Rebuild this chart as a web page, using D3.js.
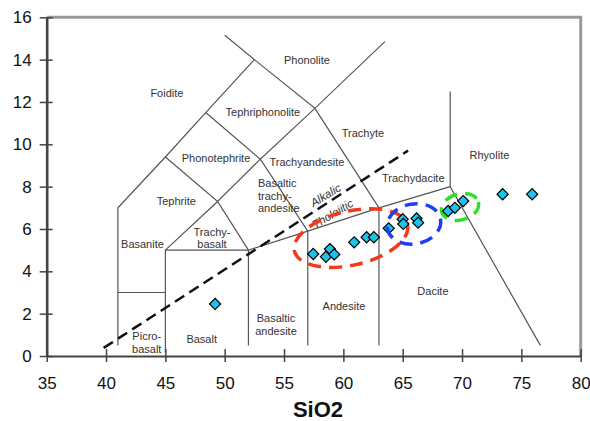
<!DOCTYPE html>
<html>
<head>
<meta charset="utf-8">
<script src="https://cdn.jsdelivr.net/npm/d3@7"></script>
<style>
  body { margin: 0; background: #fff; }
  text { font-family: "Liberation Sans", Arial, sans-serif; }
</style>
</head>
<body>
<script>
// axis ticks
const X_TICKS = [35, 40, 45, 50, 55, 60, 65, 70, 75, 80];
const Y_TICKS = [0, 2, 4, 6, 8, 10, 12, 14, 16];
const X_TITLE = 'SiO2';

// samples: SiO2 and total alkali
const SIO2 = [49.19, 57.46, 58.53, 58.87, 59.23, 60.91, 61.96, 62.57, 63.82,
  65.0, 65.05, 66.17, 66.3, 68.83, 69.4, 70.1, 73.42, 75.91];
const ALKALI = [2.46, 4.82, 4.69, 5.05, 4.80, 5.37, 5.61, 5.61, 6.03,
  6.46, 6.24, 6.50, 6.30, 6.85, 7.0, 7.32, 7.64, 7.64];

// TAS field boundaries, [SiO2, alkali] vertices
const FIELD_LINES = [
  [[41, 0.5], [41, 7], [45, 9.4], [48.4, 11.5], [52.5, 14], [50, 15.15]],
  [[52.5, 14], [57.6, 11.7], [63.5, 14.85]],
  [[41, 3], [45, 3]],
  [[45, 0.15], [45, 5], [52, 5]],
  [[45, 5], [49.4, 7.3], [52, 5]],
  [[52, 0.5], [52, 5], [57, 5.9], [63, 7], [69, 8]],
  [[57, 0.5], [57, 5.9]],
  [[63, 0.5], [63, 7]],
  [[69, 12.5], [69, 8], [76.6, 0.5]],
  [[45, 9.4], [49.4, 7.3], [53, 9.3], [57, 5.9]],
  [[48.4, 11.5], [53, 9.3], [57.6, 11.7]],
  [[57.6, 11.7], [63, 7]]
];

// alkalic / tholeiitic divide
const DIVIDE = [[39.8, 0.38], [65.45, 9.7]];

// field names
const FIELD_NAMES = [
  { lines: ['Foidite'], x: 45.13, y: 12.42 },
  { lines: ['Phonolite'], x: 56.93, y: 13.98 },
  { lines: ['Tephriphonolite'], x: 53.22, y: 11.53 },
  { lines: ['Phonotephrite'], x: 49.27, y: 9.34 },
  { lines: ['Trachyte'], x: 61.65, y: 10.55 },
  { lines: ['Trachyandesite'], x: 56.93, y: 9.18 },
  { lines: ['Tephrite'], x: 45.92, y: 7.32 },
  { lines: ['Basaltic', 'trachy-', 'andesite'], x: 52.8, y: 8.16, anchor: 'start' },
  { lines: ['Trachy-', 'basalt'], x: 48.93, y: 5.87 },
  { lines: ['Basanite'], x: 43.07, y: 5.28 },
  { lines: ['Picro-', 'basalt'], x: 43.43, y: 0.93 },
  { lines: ['Basalt'], x: 48.06, y: 0.79 },
  { lines: ['Basaltic', 'andesite'], x: 54.32, y: 1.77 },
  { lines: ['Andesite'], x: 60.05, y: 2.36 },
  { lines: ['Dacite'], x: 67.55, y: 3.08 },
  { lines: ['Trachydacite'], x: 65.89, y: 8.39 },
  { lines: ['Rhyolite'], x: 72.31, y: 9.49 }
];
const SERIES_NAMES = [
  { text: 'Alkalic', x: 58.5, y: 7.6 },
  { text: 'Tholeiitic', x: 59.1, y: 6.72 }
];

// hand-drawn groupings
const GROUPS = [
  { x: 60.64, y: 5.57, rx: 58, ry: 27, angle: -13, color: '#f5371a', over: false },
  { x: 69.83, y: 7.04, rx: 19, ry: 13, angle: -15, color: '#2ee02a', over: false },
  { x: 65.95, y: 6.24, rx: 27, ry: 20, angle: -10, color: '#1d3ff2', over: true }
];

const width = 590, height = 421;
const margin = { top: 17.3, right: 9.3, bottom: 65, left: 46.7 };

const svg = d3.select('body').append('svg')
  .attr('width', width)
  .attr('height', height);

const x = d3.scaleLinear().domain([35, 80]).range([margin.left, width - margin.right]);
const y = d3.scaleLinear().domain([0, 16]).range([height - margin.bottom, margin.top]);

const line = d3.line().x(d => x(d[0])).y(d => y(d[1]));

// frame: grey top and right
svg.append('path')
  .attr('d', `M${x(35)},${y(16)}H${x(80)}V${y(0)}`)
  .attr('fill', 'none')
  .attr('stroke', '#9a9a9a')
  .attr('stroke-width', 3);

// field boundaries
svg.append('g')
  .selectAll('path')
  .data(FIELD_LINES)
  .join('path')
    .attr('d', line)
    .attr('fill', 'none')
    .attr('stroke', '#555')
    .attr('stroke-width', 1.2);

svg.append('path')
  .attr('d', line(DIVIDE))
  .attr('fill', 'none')
  .attr('stroke', '#111')
  .attr('stroke-width', 2.6)
  .attr('stroke-dasharray', '11,6');

// field labels
const labels = svg.append('g')
  .attr('font-size', 11)
  .attr('fill', '#333');
FIELD_NAMES.forEach(f => {
  const t = labels.append('text')
    .attr('x', x(f.x))
    .attr('y', y(f.y))
    .attr('text-anchor', f.anchor || 'middle')
    .attr('dy', '0.35em');
  f.lines.forEach((s, i) => {
    t.append('tspan')
      .attr('x', x(f.x))
      .attr('dy', i === 0 ? '0.35em' : '1.15em')
      .text(s);
  });
});
labels.selectAll('.series')
  .data(SERIES_NAMES)
  .join('text')
    .attr('class', 'series')
    .attr('font-style', 'italic')
    .attr('font-size', 11.5)
    .attr('text-anchor', 'middle')
    .attr('dy', '0.35em')
    .attr('transform', d => `translate(${x(d.x)},${y(d.y)}) rotate(-31)`)
    .text(d => d.text);

function drawGroups(over) {
  svg.append('g')
    .selectAll('ellipse')
    .data(GROUPS.filter(g => g.over === over))
    .join('ellipse')
      .attr('transform', d => `translate(${x(d.x)},${y(d.y)}) rotate(${d.angle})`)
      .attr('rx', d => d.rx)
      .attr('ry', d => d.ry)
      .attr('fill', 'none')
      .attr('stroke', d => d.color)
      .attr('stroke-width', 3.5)
      .attr('stroke-dasharray', '13,8');
}

drawGroups(false);

// samples
const diamond = d3.symbol(d3.symbolSquare, 62);
svg.append('g')
  .selectAll('path')
  .data(d3.range(SIO2.length))
  .join('path')
    .attr('d', diamond)
    .attr('transform', i => `translate(${x(SIO2[i])},${y(ALKALI[i])}) rotate(45)`)
    .attr('fill', '#1fc3ea')
    .attr('stroke', '#000')
    .attr('stroke-width', 1.2);

drawGroups(true);

// axes
const xAxis = svg.append('g')
  .attr('transform', `translate(0,${y(0)})`)
  .call(d3.axisBottom(x).tickValues(X_TICKS).tickSizeOuter(0));
xAxis.select('.domain').attr('stroke', '#444').attr('stroke-width', 2.2);
xAxis.selectAll('.tick line').attr('y1', -7).attr('y2', 6).attr('stroke', '#444').attr('stroke-width', 1.5);
xAxis.selectAll('.tick text')
  .attr('y', 21)
  .attr('font-size', 17)
  .attr('font-family', '"Liberation Sans", Arial, sans-serif')
  .attr('fill', '#111');

const yAxis = svg.append('g')
  .attr('transform', `translate(${x(35)},0)`)
  .call(d3.axisLeft(y).tickValues(Y_TICKS).tickSizeOuter(0));
yAxis.select('.domain').attr('stroke', '#444').attr('stroke-width', 2.6);
yAxis.selectAll('.tick line').attr('x1', -7).attr('x2', 6).attr('stroke', '#444').attr('stroke-width', 1.5);
yAxis.selectAll('.tick text')
  .attr('x', -15)
  .attr('font-size', 17)
  .attr('font-family', '"Liberation Sans", Arial, sans-serif')
  .attr('fill', '#111');

svg.append('text')
  .attr('x', 318)
  .attr('y', 416.5)
  .attr('text-anchor', 'middle')
  .attr('font-size', 22)
  .attr('font-weight', 'bold')
  .attr('fill', '#111')
  .text(X_TITLE);
</script>
</body>
</html>
